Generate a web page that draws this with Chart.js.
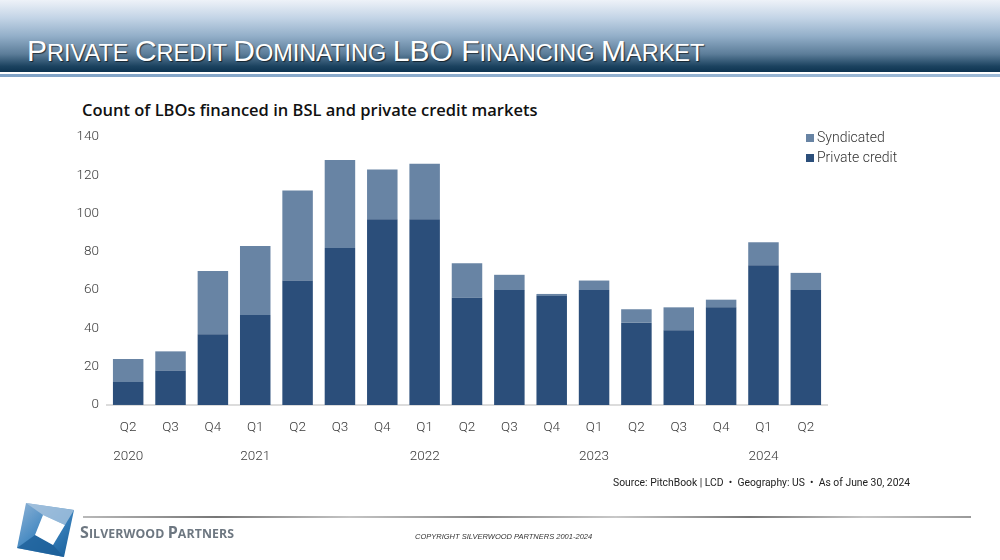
<!DOCTYPE html>
<html>
<head>
<meta charset="utf-8">
<title>Private Credit Dominating LBO Financing Market</title>
<script src="https://cdn.jsdelivr.net/npm/chart.js@4.4.1/dist/chart.umd.min.js"></script>
<style>
  html, body { margin: 0; padding: 0; background: #fff; }
  body { width: 1000px; height: 560px; position: relative; overflow: hidden; font-family: 'Liberation Sans', Arial, sans-serif; }
  .header {
    position: absolute; left: 0; top: 0; width: 1000px; height: 72px;
    background: linear-gradient(to bottom, #eef2f8 0%, #c3d4e6 25%, #93afc9 50%, #5c7d99 75%, #1b425f 92%, #0d3350 100%);
  }
  .header-line1 { position: absolute; left: 0; top: 72px; width: 1000px; height: 2px; background: #fff; }
  .header-line2 { position: absolute; left: 0; top: 74px; width: 1000px; height: 3px; background: linear-gradient(to right, #7fa2c6, #9dbad7); }
  .page-title {
    position: absolute; left: 27px; top: 36px; color: #fff; white-space: nowrap;
    font-family: 'Liberation Sans', Arial, sans-serif;
    text-shadow: 1px 1px 1px rgba(0,0,0,0.6);
    line-height: 30px;
  }
  .page-title .big { font-size: 30px; }
  .page-title .sm { font-size: 23.5px; }
  .chart-title { position: absolute; left: 82px; top: 98px; font-family: 'Open Sans', sans-serif; font-weight: 600; font-size: 16.5px; color: #111; white-space: nowrap; line-height: 24px; }
  #wrap { position: absolute; left: 0; top: 0; width: 1000px; height: 560px; }
  .legend { position: absolute; left: 806px; top: 129px; font-family: Roboto, sans-serif; font-weight: 300; font-size: 14px; color: #333; }
  .legend div { height: 20px; line-height: 16px; white-space: nowrap; }
  .legend span.box { display: inline-block; width: 8px; height: 8px; margin-right: 3px; vertical-align: 0px; }
  .source { position: absolute; right: 90px; top: 475px; font-family: Roboto, sans-serif; font-size: 11.5px; color: #222; white-space: nowrap; transform: scaleX(0.9); transform-origin: right center; }
  .footer-line { position: absolute; left: 83px; top: 516px; width: 888px; height: 2px;
    background: linear-gradient(to right, #b9b9b9 0%, #777 15%, #c4c4c4 30%, #888 45%, #c8c8c8 60%, #777 75%, #c4c4c4 88%, #999 100%); }
  .brand { position: absolute; left: 80px; top: 521px; color: #6d7781; font-family: 'Open Sans', sans-serif; font-weight: 700; white-space: nowrap; letter-spacing: 0.1px; }
  .brand .big { font-size: 16px; }
  .brand .sm { font-size: 12.3px; }
  .copyright { position: absolute; left: 415px; top: 532px; font-family: 'Liberation Sans', Arial, sans-serif; font-style: italic; font-size: 7.5px; color: #333; white-space: nowrap; }
  .logo { position: absolute; left: 0; top: 495px; }
</style>
</head>
<body>
<div class="header"></div>
<div class="header-line1"></div>
<div class="header-line2"></div>
<div class="page-title"><span class="big">P</span><span class="sm">RIVATE </span><span class="big">C</span><span class="sm">REDIT </span><span class="big">D</span><span class="sm">OMINATING </span><span class="big">LBO F</span><span class="sm">INANCING </span><span class="big">M</span><span class="sm">ARKET</span></div>

<div class="chart-title">Count of LBOs financed in BSL and private credit markets</div>
<div id="wrap"><canvas id="lboChart" width="1000" height="560"></canvas></div>
<div class="legend" id="legend"></div>
<div class="source">Source: PitchBook | LCD &nbsp;•&nbsp; Geography: US &nbsp;•&nbsp; As of June 30, 2024</div>

<svg class="logo" width="80" height="65" viewBox="0 0 80 65">
  <defs>
    <linearGradient id="lg1" x1="0" y1="0" x2="1" y2="1">
      <stop offset="0" stop-color="#8fb3d6"/>
      <stop offset="0.5" stop-color="#3f86c0"/>
      <stop offset="1" stop-color="#155d99"/>
    </linearGradient>
  </defs>
  <polygon points="26,8 74,15 64,62 17,53" fill="url(#lg1)"/>
  <polygon points="26,8 74,15 65,30 43,20" fill="#a9c4df" opacity="0.8"/>
  <polygon points="17,53 35,40 53,50 64,62" fill="#1d5f99" opacity="0.8"/>
  <polygon points="43,20 65,30 53,50 35,40" fill="#fff"/>
</svg>
<div class="footer-line"></div>
<div class="brand"><span class="big">S</span><span class="sm">ILVERWOOD </span><span class="big">P</span><span class="sm">ARTNERS</span></div>
<div class="copyright">COPYRIGHT SILVERWOOD PARTNERS 2001-2024</div>

<script>
// ==================== Data ====================

const quarters = ['Q2', 'Q3', 'Q4', 'Q1', 'Q2', 'Q3', 'Q4', 'Q1', 'Q2', 'Q3', 'Q4', 'Q1', 'Q2', 'Q3', 'Q4', 'Q1', 'Q2'];
const yearLabels = ['2020', '', '', '2021', '', '', '', '2022', '', '', '', '2023', '', '', '', '2024', ''];

const privateCredit = [12, 18, 37, 47, 65, 82, 97, 97, 56, 60, 57, 60, 43, 39, 51, 73, 60];
const syndicated = [12, 10, 33, 36, 47, 46, 26, 29, 18, 8, 1, 5, 7, 12, 4, 12, 9];

const yTicks = [0, 20, 40, 60, 80, 100, 120, 140];

const COLOR_PRIVATE = '#2b4e7a';
const COLOR_SYND = '#6884a4';

// ==================== Chart ====================

const labels = quarters.map((q, i) => [q, yearLabels[i]]);
const tickFont = { family: "Roboto, sans-serif", size: 13.5, weight: '300' };

const ctx = document.getElementById('lboChart');
const chart = new Chart(ctx, {
    type: 'bar',
    data: {
        labels: labels,
        datasets: [
            { label: 'Private credit', data: privateCredit, backgroundColor: COLOR_PRIVATE },
            { label: 'Syndicated', data: syndicated, backgroundColor: COLOR_SYND }
        ]
    },
    options: {
        responsive: false,
        animation: false,
        layout: { padding: { left: 50, right: 173, top: 137, bottom: 89 } },
        plugins: {
            legend: { display: false },
            tooltip: { enabled: false }
        },
        scales: {
            x: {
                stacked: true,
                grid: { display: false },
                border: { display: true, color: '#dcdcdc', width: 2 },
                ticks: { color: '#3a3a3a', font: { ...tickFont, lineHeight: 2.15 }, padding: 0, maxRotation: 0, autoSkip: false },
                categoryPercentage: 1.0,
                barPercentage: 0.64
            },
            y: {
                stacked: true,
                min: 0,
                max: 140,
                grid: { display: false, drawTicks: false },
                border: { display: false },
                afterFit: (scale) => { scale.width = 57; },
                afterBuildTicks: (scale) => { scale.ticks = yTicks.map(v => ({ value: v })); },
                ticks: { color: '#3a3a3a', font: tickFont, padding: 8 }
            }
        }
    }
});

// HTML legend, Syndicated listed first as in the source
const legendEl = document.getElementById('legend');
chart.data.datasets.slice().reverse().forEach(ds => {
    const row = document.createElement('div');
    row.innerHTML = '<span class="box" style="background:' + ds.backgroundColor + '"></span>' + ds.label;
    legendEl.appendChild(row);
});
</script>
</body>
</html>
